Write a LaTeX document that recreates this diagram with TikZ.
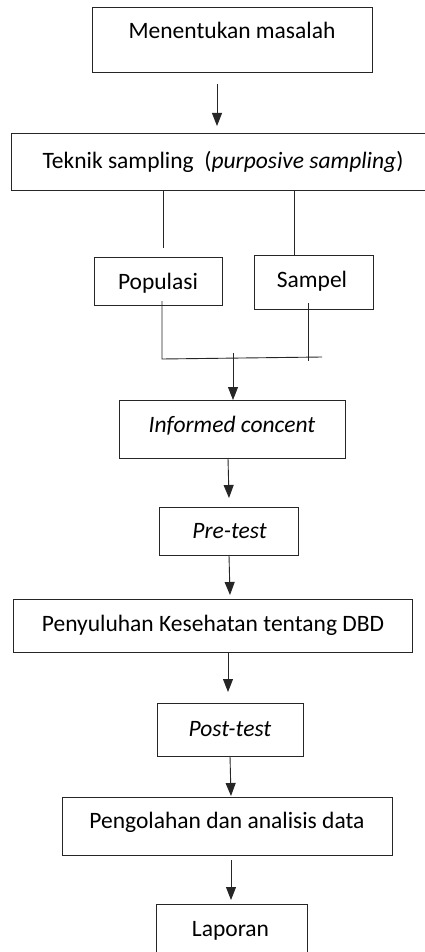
\documentclass[tikz,border=0pt]{standalone}
\usepackage{fontspec}
\setmainfont{Carlito}
\usetikzlibrary{arrows.meta}
\begin{document}
\begin{tikzpicture}[x=1pt,y=-1pt,
  ln/.style={draw=black!85, line width=0.9pt},
  box/.style={ln, rectangle, inner sep=0pt, anchor=north west},
  arr/.style={ln, -{Triangle[width=10pt,length=13pt]}},
  txt/.style={anchor=base, inner sep=0pt, font=\fontsize{23.5}{28}\selectfont}]
\useasboundingbox (0,0) rectangle (425,952);
\clip (0,0) rectangle (425,952);
% boxes
\node[box, minimum width=280pt, minimum height=65pt] (b1) at (92,7) {};
\node[box, minimum width=415pt, minimum height=57pt] (b2) at (11,133) {};
\node[box, minimum width=128pt, minimum height=48pt] (b3) at (94,257) {};
\node[box, minimum width=119pt, minimum height=54pt] (b4) at (254,255) {};
\node[box, minimum width=226pt, minimum height=58pt] (b5) at (119,400) {};
\node[box, minimum width=139pt, minimum height=48pt] (b6) at (159,507) {};
\node[box, minimum width=399pt, minimum height=53pt] (b7) at (13,599) {};
\node[box, minimum width=146pt, minimum height=53pt] (b8) at (157,703) {};
\node[box, minimum width=330pt, minimum height=58pt] (b9) at (62,797) {};
\node[box, minimum width=151pt, minimum height=60pt] (b10) at (156,904) {};
% texts
\node[txt] (t1) at (232,39) {Menentukan masalah};
\node[txt] (t2) at (223,169) {Teknik sampling\ \ (\textit{purposive sampling})};
\node[txt] (t3) at (158,289) {Populasi};
\node[txt] (t4) at (312,287) {Sampel};
\node[txt] (t5) at (232,432) {\textit{Informed concent}};
\node[txt] (t6) at (229.5,538) {\textit{Pre-test}};
\node[txt] (t7) at (213,631) {Penyuluhan Kesehatan tentang DBD};
\node[txt] (t8) at (230,736) {\textit{Post-test}};
\node[txt] (t9) at (227,828) {Pengolahan dan analisis data};
\node[txt] (t10) at (230.5,936) {Laporan};
% connector coordinates
\coordinate (a1s) at (217,84);  \coordinate (a1e) at (217,126);
\coordinate (l1s) at (163,190); \coordinate (l1e) at (163,248);
\coordinate (l2s) at (294,190); \coordinate (l2e) at (294,255);
\coordinate (p1) at (162,301);  \coordinate (p2) at (162,359);
\coordinate (h2) at (322,357);
\coordinate (s1) at (308,303);  \coordinate (s2) at (308,361);
\coordinate (a2s) at (233,353);
\coordinate (a3s) at (228,458); \coordinate (a3e) at (229,498);
\coordinate (a4s) at (229,555); \coordinate (a4e) at (230,595);
\coordinate (a5s) at (228,652); \coordinate (a5e) at (228,692);
\coordinate (a6s) at (230,756); \coordinate (a6e) at (231,796);
\coordinate (a7s) at (231,860); \coordinate (a7e) at (231,900);
% connectors
\draw[arr] (a1s) -- (a1e);
\draw[ln] (l1s) -- (l1e);
\draw[ln] (l2s) -- (l2e);
\draw[ln] (p1) -- (p2) -- (h2);
\draw[ln] (s1) -- (s2);
\draw[arr] (a2s) -- (b5.north -| a2s);
\draw[arr] (a3s) -- (a3e);
\draw[arr] (a4s) -- (a4e);
\draw[arr] (a5s) -- (a5e);
\draw[arr] (a6s) -- (a6e);
\draw[arr] (a7s) -- (a7e);
\end{tikzpicture}
\end{document}
